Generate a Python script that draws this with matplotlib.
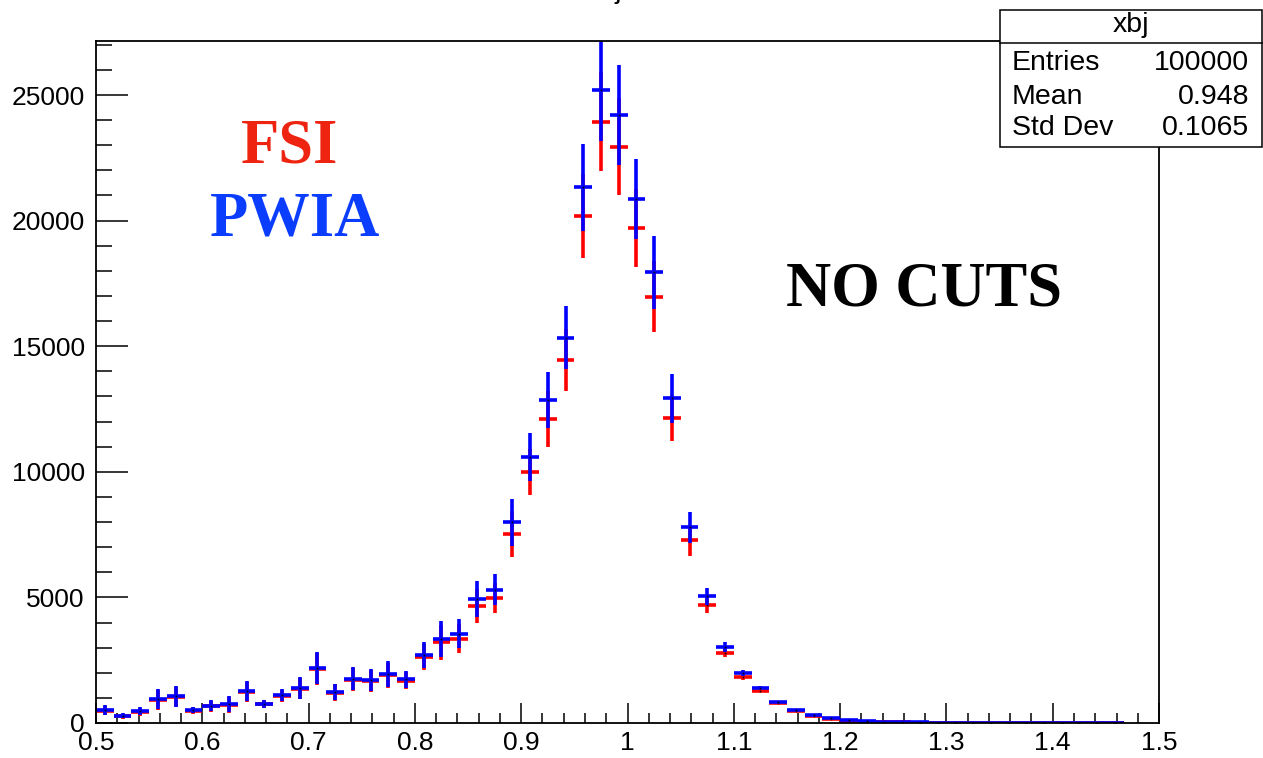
import numpy as np
import matplotlib
matplotlib.use('Agg')
import matplotlib.pyplot as plt
from matplotlib.patches import Rectangle
from matplotlib.lines import Line2D
from matplotlib.ticker import MultipleLocator

# xbj histogram: 60 bins on [0.5, 1.5], only first 58 filled
nbins = 60
xlo, xhi = 0.5, 1.5

pwia = [518, 292, 478, 955, 1062, 518, 690, 743, 1274, 770,
        1115, 1393, 2203, 1234, 1765, 1699, 1951, 1738, 2694, 3344,
        3556, 4923, 5307, 7990, 10601, 12858, 15340, 21325, 25200, 24204,
        20860, 17940, 12925, 7789, 5050, 3030, 1990, 1410, 836, 510,
        332, 190, 110, 66, 50, 30, 22, 16, 12, 9,
        7, 6, 5, 4, 3, 3, 2, 2, 0, 0]
pwia_err = [186, 106, 160, 400, 410, 133, 212, 318, 398, 160,
            240, 425, 640, 330, 450, 440, 510, 350, 520, 720,
            590, 710, 612, 927, 956, 1128, 1260, 1725, 2020, 1990,
            1592, 1460, 968, 611, 340, 186, 110, 70, 45, 30,
            22, 15, 10, 8, 6, 5, 4, 3, 3, 2,
            2, 2, 2, 1, 1, 1, 1, 1, 0, 0]

fsi = [478, 265, 438, 929, 1035, 491, 663, 717, 1234, 743,
       1088, 1354, 2150, 1208, 1725, 1659, 1898, 1685, 2627, 3211,
       3357, 4658, 4988, 7524, 9980, 12102, 14451, 20195, 23937, 22942,
       19705, 16971, 12142, 7272, 4690, 2795, 1838, 1287, 783, 458,
       285, 150, 85, 48, 38, 22, 16, 12, 9, 7,
       5, 4, 3, 3, 2, 2, 1, 1, 0, 0]
fsi_err = [180, 100, 155, 395, 405, 130, 208, 312, 392, 157,
           236, 418, 630, 326, 445, 435, 500, 345, 512, 705,
           575, 690, 597, 903, 916, 1102, 1234, 1672, 1962, 1923,
           1565, 1418, 928, 624, 330, 186, 115, 70, 45, 30,
           22, 15, 10, 8, 6, 5, 4, 3, 3, 2,
           2, 2, 2, 1, 1, 1, 1, 1, 0, 0]

stats_labels = ['Entries', 'Mean', 'Std Dev']
stats_values = ['100000', '0.948', '0.1065']

edges = np.linspace(xlo, xhi, nbins + 1)
centers = 0.5 * (edges[:-1] + edges[1:])
halfw = 0.5 * (edges[1] - edges[0])

fig = plt.figure(figsize=(12.63, 7.58), dpi=100)
ax = fig.add_axes([0.0760, 0.0462, 0.8417, 0.8997])

def draw_hist(vals, errs, color):
    vals = np.array(vals, dtype=float)
    errs = np.array(errs, dtype=float)
    m = vals > 0
    ax.errorbar(centers[m], vals[m], xerr=halfw, yerr=errs[m], fmt='none',
                ecolor=color, elinewidth=2.6, capsize=0)
    ax.plot(centers[m], vals[m], 's', color='black', ms=1.2, mew=0)

draw_hist(fsi, fsi_err, 'red')
draw_hist(pwia, pwia_err, 'blue')

ax.set_xlim(xlo, xhi)
ax.set_ylim(0, 27150)
ax.xaxis.set_minor_locator(MultipleLocator(0.02))
ax.yaxis.set_major_locator(MultipleLocator(5000))
ax.yaxis.set_minor_locator(MultipleLocator(1000))
ax.set_xticks(np.arange(0.5, 1.51, 0.1))
ax.set_xticklabels(['0.5', '0.6', '0.7', '0.8', '0.9', '1', '1.1', '1.2', '1.3', '1.4', '1.5'])
ax.tick_params(axis='x', which='major', direction='in', length=14.4, width=1.1,
               labelsize=19, pad=6)
ax.tick_params(axis='x', which='minor', direction='in', length=7.2, width=1.1)
ax.tick_params(axis='y', which='major', direction='in', length=23, width=1.1,
               labelsize=19, pad=8)
ax.tick_params(axis='y', which='minor', direction='in', length=11.5, width=1.1)
for lab in ax.get_xticklabels() + ax.get_yticklabels():
    lab.set_family('Liberation Sans')
for s in ax.spines.values():
    s.set_linewidth(1.3)

# labels inside the frame
serif = 'Liberation Serif'
fig.text(0.2296, 0.785, 'FSI', color='#EE2310', fontsize=45, fontweight='bold',
         family=serif, ha='center', va='baseline')
fig.text(0.2336, 0.6887, 'PWIA', color='#0B3DFF', fontsize=45, fontweight='bold',
         family=serif, ha='center', va='baseline')
fig.text(0.7316, 0.5976, 'NO CUTS', color='black', fontsize=45, fontweight='bold',
         family=serif, ha='center', va='baseline')

# histogram title, sits mostly above the canvas
fig.text(0.4785, 1.0026, 'xbj', fontsize=20, family='Liberation Sans',
         ha='center', va='baseline')

# stats box
bx0, bx1, by0, by1 = 0.7918, 0.9992, 0.8061, 0.9868
fig.patches.append(Rectangle((bx0, by0), bx1 - bx0, by1 - by0, transform=fig.transFigure,
                             facecolor='white', edgecolor='black', lw=1.1, zorder=5))
fig.lines.append(Line2D([bx0, bx1], [0.9433, 0.9433], transform=fig.transFigure,
                        color='black', lw=1.1, zorder=6))
fig.text(0.8955, 0.967, 'xbj', fontsize=20.5, family='Liberation Sans',
         ha='center', va='center', zorder=7)
rows_y = [0.9169, 0.872, 0.8311]
for lab, val, yy in zip(stats_labels, stats_values, rows_y):
    fig.text(0.8013, yy, lab, fontsize=20.5, family='Liberation Sans',
             ha='left', va='center', zorder=7)
    fig.text(0.9889, yy, val, fontsize=20.5, family='Liberation Sans',
             ha='right', va='center', zorder=7)

fig.savefig('out.png', dpi=100)
